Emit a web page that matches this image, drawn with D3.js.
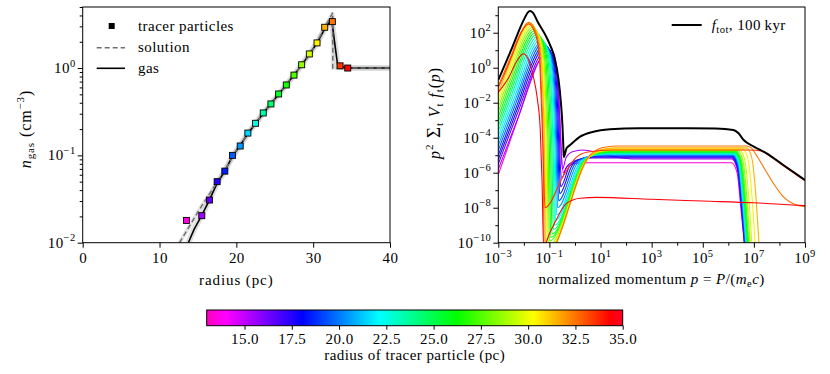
<!DOCTYPE html>
<html><head><meta charset="utf-8">
<script src="https://cdn.jsdelivr.net/npm/d3@7"></script>
<style>
body{margin:0;background:#fff;}
text{font-family:"Liberation Serif","Times New Roman",serif;font-size:15px;letter-spacing:0.45px;fill:#000;}
</style></head><body>
<svg id="c" width="830" height="374"></svg>
<script>
// ---------- DATA ----------
// Left panel: tracer particles
const tracerRadius  = [13.5,15.5,16.5,17.5,18.5,19.5,20.5,21.5,22.5,23.5,24.5,25.5,26.5,27.5,28.5,29.5,30.5,31.5,32.5,33.5,34.5];
const tracerDensity = [0.018,0.0204,0.0308,0.050,0.066,0.100,0.128,0.180,0.233,0.306,0.388,0.505,0.64,0.83,1.09,1.45,1.94,2.93,3.40,1.06,1.00];
// gas profile
const gasRadius  = [13.75,14.5,15.5,16.5,17.5,18.5,19.5,20.5,21.5,22.5,23.5,24.5,25.5,26.5,27.5,28.5,29.5,30.5,31.5,32.4,33.2,34.5,40];
const gasDensity = [0.01,0.0142,0.0205,0.031,0.048,0.066,0.098,0.13,0.178,0.232,0.303,0.39,0.5,0.64,0.83,1.08,1.44,1.93,2.8,3.6,1.05,1.0,1.0];
// analytic solution
const solRadius  = [12.6,14,15,16,17,18,19,20,22,24,26,28,30,32.55,32.55,40];
const solDensity = [0.01,0.016,0.0225,0.031,0.042,0.057,0.08,0.113,0.205,0.345,0.565,0.95,1.65,4.3,1.0,1.0];
const radiusTicks = [0,10,20,30,40];
const densityTicks = [0.01,0.1,1];

// Right panel: spectra, pairs of [log10 p, log10 (p^2 sum V f)]
const spec13_5=[[-3,-6.1],[-2.25,-2.98],[-1.5,0.15],[-1.3,0.62],[-1.2,0.7],[-0.77,0.0],[-0.64,-1.3],[-0.58,-3.2],[-0.47,-6.0],[-0.3,-5.65],[0.0,-5.47],[0.5,-5.43],[3.5,-5.43],[6.12,-5.43],[6.27,-5.68],[6.37,-6.23],[6.49,-8.03],[6.62,-10],[6.67,-11]];
const spec15_5=[[-3,-5.8],[-2.2,-2.75],[-1.4,0.4],[-1.17,0.9],[-1.05,1.0],[-0.9,0.98],[-0.8,0.7],[-0.66,-0.9],[-0.6,-2.8],[-0.54,-4.8],[-0.49,-5.8],[-0.35,-5.15],[-0.1,-4.8],[0.3,-4.7],[0.9,-4.85],[1.6,-5.1],[2.4,-5.22],[3.5,-5.22],[6.13,-5.22],[6.28,-5.47],[6.38,-6.02],[6.5,-7.82],[6.63,-10],[6.68,-11]];
const spec16_5=[[-3,-5.5],[-2.21,-2.45],[-1.42,0.6],[-1.22,1.07],[-1.12,1.15],[-0.82,0.45],[-0.69,-0.85],[-0.63,-2.75],[-0.57,-5.65],[-0.52,-6.3],[-0.32,-5.65],[0.13,-5.25],[0.68,-5.15],[3.5,-5.15],[6.13,-5.15],[6.28,-5.4],[6.38,-5.95],[6.5,-7.75],[6.63,-10],[6.68,-11]];
const spec17_5=[[-3,-5.25],[-2.235,-2.275],[-1.47,0.7],[-1.27,1.17],[-1.17,1.25],[-0.86,0.55],[-0.73,-0.75],[-0.67,-2.65],[-0.61,-5.55],[-0.56,-6.8],[-0.2,-5.6],[0.25,-5.2],[0.8,-5.1],[3.5,-5.1],[6.14,-5.1],[6.29,-5.35],[6.39,-5.9],[6.51,-7.7],[6.64,-10],[6.69,-11]];
const spec18_5=[[-3,-5],[-2.26,-2.11],[-1.52,0.78],[-1.32,1.25],[-1.22,1.33],[-0.9,0.63],[-0.77,-0.67],[-0.71,-2.57],[-0.65,-5.47],[-0.6,-7.2],[-0.1,-5.55],[0.35,-5.15],[0.9,-5.05],[3.5,-5.05],[6.15,-5.05],[6.3,-5.3],[6.4,-5.85],[6.52,-7.65],[6.65,-10],[6.7,-11]];
const spec19_5=[[-3,-4.72],[-2.285,-1.925],[-1.57,0.87],[-1.37,1.34],[-1.27,1.42],[-0.94,0.72],[-0.81,-0.58],[-0.75,-2.48],[-0.69,-5.38],[-0.64,-7.6],[0.0,-5.5],[0.45,-5.1],[1.0,-5.0],[3.5,-5.0],[6.16,-5.0],[6.31,-5.25],[6.41,-5.8],[6.53,-7.6],[6.66,-10],[6.71,-11]];
const spec20_5=[[-3,-4.45],[-2.31,-1.75],[-1.62,0.95],[-1.42,1.42],[-1.32,1.5],[-0.98,0.8],[-0.85,-0.5],[-0.79,-2.4],[-0.73,-5.3],[-0.68,-8.0],[0.09,-5.47],[0.54,-5.07],[1.09,-4.97],[3.5,-4.97],[6.18,-4.97],[6.33,-5.22],[6.43,-5.77],[6.55,-7.57],[6.68,-10],[6.73,-11]];
const spec21_5=[[-3,-4.18],[-2.335,-1.565],[-1.67,1.05],[-1.47,1.52],[-1.37,1.6],[-1.02,0.9],[-0.89,-0.4],[-0.83,-2.3],[-0.77,-5.2],[-0.72,-8.4],[0.18,-5.44],[0.63,-5.04],[1.18,-4.94],[3.5,-4.94],[6.19,-4.94],[6.34,-5.19],[6.44,-5.74],[6.56,-7.54],[6.69,-10],[6.74,-11]];
const spec22_5=[[-3,-3.9],[-2.36,-1.375],[-1.72,1.15],[-1.52,1.62],[-1.42,1.7],[-1.06,1.0],[-0.93,-0.3],[-0.87,-2.2],[-0.81,-5.1],[-0.76,-8.7],[0.24,-5.41],[0.69,-5.01],[1.24,-4.91],[3.5,-4.91],[6.2,-4.91],[6.35,-5.16],[6.45,-5.71],[6.57,-7.51],[6.7,-10],[6.75,-11]];
const spec23_5=[[-3,-3.62],[-2.385,-1.185],[-1.77,1.25],[-1.57,1.72],[-1.47,1.8],[-1.1,1.1],[-0.97,-0.2],[-0.91,-2.1],[-0.85,-5.0],[-0.8,-9.0],[0.3,-5.38],[0.75,-4.98],[1.3,-4.88],[3.5,-4.88],[6.22,-4.88],[6.37,-5.13],[6.47,-5.68],[6.59,-7.48],[6.72,-10],[6.77,-11]];
const spec24_5=[[-3,-3.35],[-2.41,-1.0],[-1.82,1.35],[-1.62,1.82],[-1.52,1.9],[-1.15,1.2],[-1.02,-0.1],[-0.96,-2.0],[-0.9,-4.9],[-0.85,-9.25],[0.33,-5.35],[0.78,-4.95],[1.33,-4.85],[3.5,-4.85],[6.24,-4.85],[6.39,-5.1],[6.49,-5.65],[6.61,-7.45],[6.74,-10],[6.79,-11]];
const spec25_5=[[-3,-3.08],[-2.43,-0.815],[-1.86,1.45],[-1.66,1.92],[-1.56,2.0],[-1.2,1.3],[-1.07,0.0],[-1.01,-1.9],[-0.95,-4.8],[-0.9,-9.5],[0.37,-5.32],[0.82,-4.92],[1.37,-4.82],[3.5,-4.82],[6.26,-4.82],[6.41,-5.07],[6.51,-5.62],[6.63,-7.42],[6.76,-10],[6.81,-11]];
const spec26_5=[[-3,-2.8],[-2.45,-0.625],[-1.9,1.55],[-1.7,2.02],[-1.6,2.1],[-1.25,1.4],[-1.12,0.1],[-1.06,-1.8],[-1.0,-4.7],[-0.95,-9.7],[0.39,-5.29],[0.84,-4.89],[1.39,-4.79],[3.5,-4.79],[6.28,-4.79],[6.43,-5.04],[6.53,-5.59],[6.65,-7.39],[6.78,-10],[6.83,-11]];
const spec27_5=[[-3,-2.52],[-2.47,-0.435],[-1.94,1.65],[-1.74,2.12],[-1.64,2.2],[-1.3,1.5],[-1.17,0.2],[-1.11,-1.7],[-1.05,-4.6],[-1.0,-9.9],[0.41,-5.26],[0.86,-4.86],[1.41,-4.76],[3.5,-4.76],[6.3,-4.76],[6.45,-5.01],[6.55,-5.56],[6.67,-7.36],[6.8,-10],[6.85,-11]];
const spec28_5=[[-3,-2.25],[-2.49,-0.25],[-1.98,1.75],[-1.78,2.22],[-1.68,2.3],[-1.34,1.6],[-1.21,0.3],[-1.15,-1.6],[-1.09,-4.5],[-1.04,-10.2],[0.47,-5.22],[0.92,-4.82],[1.47,-4.72],[3.5,-4.72],[6.35,-4.72],[6.5,-4.97],[6.6,-5.52],[6.72,-7.32],[6.85,-10],[6.9,-11]];
const spec29_5=[[-3,-1.98],[-2.51,-0.065],[-2.02,1.85],[-1.82,2.32],[-1.72,2.4],[-1.38,1.7],[-1.25,0.4],[-1.19,-1.5],[-1.13,-4.4],[-1.08,-10.4],[0.5,-5.18],[0.95,-4.78],[1.5,-4.68],[3.5,-4.68],[6.42,-4.68],[6.57,-4.93],[6.67,-5.48],[6.79,-7.28],[6.92,-10],[6.97,-11]];
const spec30_5=[[-3,-1.7],[-2.53,0.115],[-2.06,1.93],[-1.86,2.4],[-1.76,2.48],[-1.42,1.78],[-1.29,0.48],[-1.23,-1.42],[-1.17,-4.32],[-1.12,-10.6],[0.54,-5.14],[0.99,-4.74],[1.54,-4.64],[3.5,-4.64],[6.55,-4.64],[6.7,-4.89],[6.8,-5.44],[6.92,-7.24],[7.05,-10],[7.1,-11]];
const spec31_5=[[-3,-1.42],[-2.545,0.29],[-2.09,2.0],[-1.89,2.47],[-1.79,2.55],[-1.45,1.85],[-1.32,0.55],[-1.26,-1.35],[-1.2,-4.25],[-1.15,-10.8],[0.58,-5.08],[1.03,-4.68],[1.58,-4.58],[3.5,-4.58],[6.7,-4.58],[6.85,-4.83],[6.95,-5.38],[7.07,-7.18],[7.2,-10],[7.25,-11]];
const spec32_5=[[-3,-1.05],[-2.555,0.495],[-2.11,2.04],[-1.91,2.51],[-1.81,2.59],[-1.5,1.89],[-1.37,0.59],[-1.31,-1.31],[-1.25,-4.21],[-1.2,-10.9],[0.6,-4.97],[1.05,-4.57],[1.6,-4.47],[3.5,-4.47],[6.7,-4.47],[6.9,-4.58],[7.1,-5.0],[7.37,-5.66],[7.76,-6.6],[8.15,-7.37],[8.67,-7.85],[9.0,-7.94]];
const spec33_5=[[-3,-1.15],[-2.56,0.35],[-2.12,1.95],[-1.92,2.42],[-1.82,2.5],[-1.52,1.8],[-1.39,0.5],[-1.33,-1.4],[-1.26,-4.3],[-1.17,-8.0],[-0.46,-6.2],[0.0,-5.2],[0.5,-4.82],[1.5,-4.7],[3.5,-4.7],[6.8,-4.7],[7.3,-4.76],[7.5,-4.93],[8.15,-5.6],[9,-6.46]];
const spec34_5=[[-3,-1.4],[-2.57,-0.5],[-2.31,0.3],[-2.15,0.65],[-2.02,0.8],[-1.8,0.4],[-1.64,-0.45],[-1.47,-1.8],[-1.36,-3.5],[-1.29,-6.4],[-1.22,-10.5],[-1.15,-10.1],[-0.75,-8.75],[-0.33,-7.75],[0.2,-7.46],[0.85,-7.41],[3,-7.52],[5,-7.62],[7,-7.72],[9,-7.88]];
const specTotal=[[-3,-0.7],[-2.5,1.0],[-2.0,2.75],[-1.85,3.15],[-1.76,3.24],[-1.65,3.15],[-1.45,2.6],[-1.1,1.7],[-0.8,0.55],[-0.65,-0.6],[-0.55,-2.0],[-0.49,-3.3],[-0.455,-4.5],[-0.44,-5.1],[-0.33,-4.6],[-0.19,-4.42],[0.2,-3.94],[0.72,-3.66],[1.37,-3.52],[2.5,-3.46],[4,-3.46],[5.5,-3.48],[6.2,-3.56],[6.4,-3.75],[6.6,-4.13],[7,-4.51],[7.5,-4.89],[8.15,-5.56],[9,-6.42]];
const spectra=[[13.5,spec13_5],[15.5,spec15_5],[16.5,spec16_5],[17.5,spec17_5],[18.5,spec18_5],[19.5,spec19_5],[20.5,spec20_5],[21.5,spec21_5],[22.5,spec22_5],[23.5,spec23_5],[24.5,spec24_5],[25.5,spec25_5],[26.5,spec26_5],[27.5,spec27_5],[28.5,spec28_5],[29.5,spec29_5],[30.5,spec30_5],[31.5,spec31_5],[32.5,spec32_5],[33.5,spec33_5],[34.5,spec34_5]];
const momentumMajor=[-3,-1,1,3,5,7,9];
const momentumMinor=[-2,0,2,4,6,8];
const specMajor=[-10,-8,-6,-4,-2,0,2];
const specMinor=[-9,-7,-5,-3,-1,1,3];
const colorbarTicks=[15,17.5,20,22.5,25,27.5,30,32.5,35];
const colorbarRange=[13,35];

// ---------- STYLE / LAYOUT ----------
const svg=d3.select('#c');
const L={x0:82.7,x1:390,y0:7,y1:242.7};
const R={x0:498.3,x1:805,y0:7,y1:242.7};
const CB={x0:206.7,x1:622.7,y0:310,y1:325.7};
const SUP='10.5px';
// gist_rainbow_r colormap
const cmStops=[0,0.046,0.23,0.414,0.6,0.785,0.97,1];
const cmColors=['#ff00bf','#ff00ff','#0000ff','#00ffff','#00ff00','#ffff00','#ff0000','#ff0029'];
const cmap=d3.scaleLinear().domain(cmStops.map(t=>colorbarRange[0]+t*(colorbarRange[1]-colorbarRange[0]))).range(cmColors).interpolate(d3.interpolateRgb).clamp(true);

const xL=d3.scaleLinear().domain([0,40]).range([L.x0,L.x1]);
const yL=d3.scaleLog().domain([0.01,5.0]).range([L.y1,L.y0]);
const xR=d3.scaleLog().domain([1e-3,1e9]).range([R.x0,R.x1]);
const yR=d3.scaleLog().domain([1e-10,Math.pow(10,3.47)]).range([R.y1,R.y0]);
const cbScale=d3.scaleLinear().domain(colorbarRange).range([CB.x0,CB.x1]);

const defs=svg.append('defs');
defs.append('clipPath').attr('id','clipL').append('rect').attr('x',L.x0).attr('y',L.y0).attr('width',L.x1-L.x0).attr('height',L.y1-L.y0);
defs.append('clipPath').attr('id','clipR').append('rect').attr('x',R.x0).attr('y',R.y0).attr('width',R.x1-R.x0).attr('height',R.y1-R.y0);

function powText(g,x,y,e,anchor){
  const t=g.append('text').attr('x',x).attr('y',y).attr('text-anchor',anchor);
  t.append('tspan').text('10');
  t.append('tspan').attr('dy',-6.5).attr('font-size',SUP).text(e<0?'\u2212'+(-e):String(e));
  return t;
}
function cleanAxis(g){g.select('.domain').remove();g.attr('font-family',null).attr('font-size',null);g.selectAll('line').attr('stroke','#000');return g;}

// ---------- LEFT PANEL ----------
const gL=svg.append('g').attr('clip-path','url(#clipL)');
const lineL=d3.line().x(d=>xL(d[0])).y(d=>yL(d[1]));
const gasPts=gasRadius.map((r,i)=>[r,gasDensity[i]]);
const solPts=solRadius.map((r,i)=>[r,solDensity[i]]);
gL.append('path').attr('d',lineL(solPts)).attr('fill','none').attr('stroke','#999').attr('stroke-opacity',0.25).attr('stroke-width',4);
gL.append('path').attr('d',lineL(gasPts)).attr('fill','none').attr('stroke','#999').attr('stroke-opacity',0.3).attr('stroke-width',6).attr('stroke-linejoin','round');
gL.append('path').attr('d',lineL(gasPts)).attr('fill','none').attr('stroke','#000').attr('stroke-width',1.6);
gL.append('path').attr('d',lineL(solPts)).attr('fill','none').attr('stroke','#707070').attr('stroke-width',1.5).attr('stroke-dasharray','5,3');
gL.selectAll('rect.tp').data(tracerRadius).enter().append('rect').attr('class','tp')
  .attr('x',(r)=>xL(r)-3).attr('y',(r,i)=>yL(tracerDensity[i])-3).attr('width',6).attr('height',6)
  .attr('fill',r=>cmap(r)).attr('stroke','#000').attr('stroke-width',0.9);

// axes left
cleanAxis(svg.append('g').attr('transform',`translate(0,${L.y1})`).call(d3.axisBottom(xL).tickValues(radiusTicks).tickSize(5).tickPadding(5).tickFormat(d3.format('d'))));
cleanAxis(svg.append('g').attr('transform',`translate(${L.x0},0)`).call(d3.axisLeft(yL).tickValues(densityTicks).tickSize(5).tickFormat('')));
const leftMinor=[];
[0.01,0.1,1].forEach(b=>{for(let k=2;k<=9;k++){const v=b*k;if(v<=5.0)leftMinor.push(v);}});
cleanAxis(svg.append('g').attr('transform',`translate(${L.x0},0)`).call(d3.axisLeft(yL).tickValues(leftMinor).tickSize(3).tickFormat('')));
densityTicks.forEach(v=>powText(svg,L.x0-7,yL(v)+5,Math.round(Math.log10(v)),'end'));
svg.append('rect').attr('x',L.x0).attr('y',L.y0).attr('width',L.x1-L.x0).attr('height',L.y1-L.y0).attr('fill','none').attr('stroke','#000').attr('stroke-width',1);

// labels left
svg.append('text').attr('x',(L.x0+L.x1)/2).attr('y',285).attr('text-anchor','middle').attr('style','letter-spacing:0.9px').text('radius (pc)');
{
  const t=svg.append('text').attr('transform',`translate(31,129) rotate(-90)`).attr('text-anchor','middle').attr('style','font-size:16px;letter-spacing:0.9px');
  t.append('tspan').attr('font-style','italic').text('n');
  t.append('tspan').attr('dy',3).attr('style','font-size:11px').text('gas');
  t.append('tspan').attr('dy',-3).text(' (cm');
  t.append('tspan').attr('dy',-7).attr('style','font-size:11px').text('\u22123');
  t.append('tspan').attr('dy',7).text(')');
}
// legend left
svg.append('rect').attr('x',108.7).attr('y',23).attr('width',6).attr('height',6).attr('fill','#000');
svg.append('text').attr('x',138).attr('y',30.5).text('tracer particles');
svg.append('line').attr('x1',96.7).attr('x2',125).attr('y1',47.7).attr('y2',47.7).attr('stroke','#707070').attr('stroke-width',1.5).attr('stroke-dasharray','5,3');
svg.append('text').attr('x',138).attr('y',52).text('solution');
svg.append('line').attr('x1',96.7).attr('x2',125).attr('y1',68.3).attr('y2',68.3).attr('stroke','#000').attr('stroke-width',1.6);
svg.append('text').attr('x',138).attr('y',72.5).text('gas');

// ---------- RIGHT PANEL ----------
const gR=svg.append('g').attr('clip-path','url(#clipR)');
const lineR=d3.line().x(d=>xR(Math.pow(10,d[0]))).y(d=>yR(Math.pow(10,d[1]))).curve(d3.curveMonotoneX);
spectra.forEach(([r,pts])=>{
  gR.append('path').attr('d',lineR(pts)).attr('fill','none').attr('stroke',cmap(r)).attr('stroke-width',1.1);
});
gR.append('path').attr('d',lineR(specTotal)).attr('fill','none').attr('stroke','#000').attr('stroke-width',2);

cleanAxis(svg.append('g').attr('transform',`translate(0,${R.y1})`).call(d3.axisBottom(xR).tickValues(momentumMajor.map(e=>Math.pow(10,e))).tickSize(5).tickFormat('')));
cleanAxis(svg.append('g').attr('transform',`translate(0,${R.y1})`).call(d3.axisBottom(xR).tickValues(momentumMinor.map(e=>Math.pow(10,e))).tickSize(3).tickFormat('')));
cleanAxis(svg.append('g').attr('transform',`translate(${R.x0},0)`).call(d3.axisLeft(yR).tickValues(specMajor.map(e=>Math.pow(10,e))).tickSize(5).tickFormat('')));
cleanAxis(svg.append('g').attr('transform',`translate(${R.x0},0)`).call(d3.axisLeft(yR).tickValues(specMinor.map(e=>Math.pow(10,e))).tickSize(3).tickFormat('')));
momentumMajor.forEach(e=>powText(svg,xR(Math.pow(10,e)),263,e,'middle'));
specMajor.forEach(e=>powText(svg,R.x0-7,yR(Math.pow(10,e))+5,e,'end'));
svg.append('rect').attr('x',R.x0).attr('y',R.y0).attr('width',R.x1-R.x0).attr('height',R.y1-R.y0).attr('fill','none').attr('stroke','#000').attr('stroke-width',1);

{
  const t=svg.append('text').attr('x',(R.x0+R.x1)/2).attr('y',284).attr('text-anchor','middle');
  t.append('tspan').text('normalized momentum ');
  t.append('tspan').attr('font-style','italic').text('p');
  t.append('tspan').text(' = ');
  t.append('tspan').attr('font-style','italic').text('P');
  t.append('tspan').text('/(');
  t.append('tspan').attr('font-style','italic').text('m');
  t.append('tspan').attr('dy',3).attr('font-size',SUP).text('e');
  t.append('tspan').attr('dy',-3).attr('font-style','italic').text('c');
  t.append('tspan').text(')');
}
{
  const t=svg.append('text').attr('transform',`translate(440,113) rotate(-90)`).attr('text-anchor','middle').attr('style','font-size:16px;letter-spacing:0.9px');
  t.append('tspan').attr('font-style','italic').text('p');
  t.append('tspan').attr('dy',-7).attr('style','font-size:11px').text('2');
  t.append('tspan').attr('dy',7).attr('style','font-size:19px').text(' \u03A3');
  t.append('tspan').attr('dy',3).attr('style','font-size:11px').text('t');
  t.append('tspan').attr('dy',-3).attr('font-style','italic').text('  V');
  t.append('tspan').attr('dy',3).attr('style','font-size:11px').text('t');
  t.append('tspan').attr('dy',-3).attr('font-style','italic').text(' f');
  t.append('tspan').attr('dy',3).attr('style','font-size:11px').text('t');
  t.append('tspan').attr('dy',-3).text('(');
  t.append('tspan').attr('font-style','italic').text('p');
  t.append('tspan').text(')');
}
// legend right
svg.append('line').attr('x1',671.7).attr('x2',701.7).attr('y1',25).attr('y2',25).attr('stroke','#000').attr('stroke-width',2);
{
  const t=svg.append('text').attr('x',711.7).attr('y',29.5);
  t.append('tspan').attr('font-style','italic').text('f');
  t.append('tspan').attr('dy',3).attr('font-size',SUP).text('tot');
  t.append('tspan').attr('dy',-3).text(', 100\u2009kyr');
}

// ---------- COLORBAR ----------
const grad=defs.append('linearGradient').attr('id','cbgrad').attr('x1','0%').attr('x2','100%').attr('y1','0%').attr('y2','0%');
cmStops.forEach((t,i)=>grad.append('stop').attr('offset',(t*100)+'%').attr('stop-color',cmColors[i]));
svg.append('rect').attr('x',CB.x0).attr('y',CB.y0).attr('width',CB.x1-CB.x0).attr('height',CB.y1-CB.y0).attr('fill','url(#cbgrad)').attr('stroke','#000').attr('stroke-width',1);
cleanAxis(svg.append('g').attr('transform',`translate(0,${CB.y1})`).call(d3.axisBottom(cbScale).tickValues(colorbarTicks).tickSize(4).tickPadding(4).tickFormat(d3.format('.1f'))));
svg.append('text').attr('x',(CB.x0+CB.x1)/2).attr('y',360).attr('text-anchor','middle').text('radius of tracer particle (pc)');
</script>
</body></html>
